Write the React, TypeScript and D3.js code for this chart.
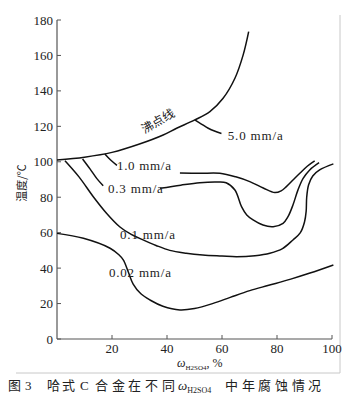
import React from "react";
import * as d3 from "d3";

const W = 356;
const H = 408;

const xTicks = [20, 40, 60, 80, 100];
const yTicks = [0, 20, 40, 60, 80, 100, 120, 140, 160, 180];

// boiling point line (沸点线)
const boiling: [number, number][] = [
  [0, 101], [10, 102.6], [20, 105.3], [30, 110], [38.6, 115.1], [43.5, 118.9],
  [50.1, 123.6], [55.6, 128.3], [60.4, 135.8], [64.7, 147.1], [67.7, 160.3], [69.7, 173.4],
];
const c50: [number, number][] = [[50.1, 123.6], [52.5, 121.3], [55, 118.9], [57.5, 117.2], [59.8, 116]];
const c10a: [number, number][] = [[17.4, 104.4], [19.5, 101], [21.8, 98]];
const c10b: [number, number][] = [
  [44.7, 93.7], [52, 93.5], [59.2, 93.5], [65, 91.5], [70.1, 88.8], [75, 85.2],
  [79.2, 82.6], [81.5, 83.6], [83.4, 86], [86, 90], [88.3, 93.5], [91, 97.5], [93.7, 100.5],
];
const c03a: [number, number][] = [[9.3, 101.6], [12, 96], [14.5, 90.5], [16.8, 86.5]];
const c03b: [number, number][] = [
  [37.4, 85], [45, 86.8], [51.9, 88.2], [58, 88.6], [61.5, 88.2], [64.7, 84.1],
  [67.1, 74.7], [69, 70], [71.3, 67.2], [74.9, 64.3], [78.6, 63.4], [82.2, 65.3],
  [84, 69], [85.8, 75.6], [87.6, 84], [89.5, 90.6], [91.9, 95.4], [95.3, 99.5],
];
const c01: [number, number][] = [
  [2.9, 100.6], [8, 91.5], [13.2, 80.3], [18, 71], [22.9, 63.2], [27, 59], [31.3, 55.9],
  [36, 52.8], [41, 50], [47, 48.4], [53, 47.4], [60, 46.8], [65.3, 46.4], [72, 47],
  [77.4, 48.4], [82, 51], [85.8, 55.9], [88.5, 60], [90, 66], [90.6, 72], [90.8, 80],
  [91.5, 87], [93, 92], [95.5, 95.4], [100.5, 98.8],
];
const c002: [number, number][] = [
  [0, 59.6], [9.6, 56.8], [19.3, 51.2], [22.5, 47.5], [24.1, 44.6], [26, 37.5],
  [27.7, 31], [30.5, 25.5], [33.8, 22], [38.5, 18.5], [44.7, 16.4], [50, 17.2],
  [56.8, 20.1], [63, 23.5], [70.1, 27.3], [77, 30.3], [85, 33.8], [92, 37.2], [100.5, 41.8],
];

const curves = [boiling, c50, c10a, c10b, c03a, c03b, c01, c002];

const labelTexts = ["5.0 mm/a", "1.0 mm/a", "0.3 mm/a", "0.1 mm/a", "0.02 mm/a"];
const labelX = [62.1, 21.8, 18.5, 22.9, 18.9];
const labelY = [112.3, 95.4, 82.4, 56.4, 35];
const labelLen = [55, 54, 55, 55, 62];

const serif = '"Liberation Serif", "DejaVu Serif", "Times New Roman", serif';
const cjk = '"Noto Sans CJK SC", "Noto Sans", sans-serif';

export default function App() {
  const x = d3.scaleLinear().domain([0, 100]).range([57, 332]);
  const y = d3.scaleLinear().domain([0, 180]).range([339, 20]);
  const line = d3
    .line<[number, number]>()
    .x((d) => x(d[0]))
    .y((d) => y(d[1]))
    .curve(d3.curveCatmullRom.alpha(0.5));

  const capX = [47, 62, 80, 95, 112, 128, 145, 162];
  const capX2 = [225, 242, 258, 275, 292, 308];
  const sf = { fontFamily: serif };
  const cf = { fontFamily: cjk };

  return (
    <svg
      width={W}
      height={H}
      style={{ position: "absolute", left: 0, top: 0, background: "#fff" }}
    >
      {/* scan frame */}
      <line x1={340} y1={15} x2={340} y2={373} stroke="#c8c8c8" strokeWidth={1} />
      <line x1={16} y1={373} x2={340} y2={373} stroke="#c8c8c8" strokeWidth={1} />

      {/* axes */}
      <line x1={x(0)} y1={y(0)} x2={x(0)} y2={y(180)} stroke="#555" strokeWidth={1.2} />
      <line x1={x(0)} y1={y(0)} x2={x(100)} y2={y(0)} stroke="#555" strokeWidth={1.2} />
      {yTicks.map((t) => (
        <g key={"y" + t}>
          <line x1={x(0)} x2={x(0) + 4} y1={y(t)} y2={y(t)} stroke="#555" strokeWidth={1} />
          <text
            x={x(0) - 4}
            y={y(t)}
            dy="0.35em"
            textAnchor="end"
            style={sf}
            fontSize={13}
            fill="#222"
          >
            {t}
          </text>
        </g>
      ))}
      {xTicks.map((t) => (
        <g key={"x" + t}>
          <line x1={x(t)} x2={x(t)} y1={y(0)} y2={y(0) - 4} stroke="#555" strokeWidth={1} />
          <text x={x(t)} y={353} textAnchor="middle" style={sf} fontSize={13} fill="#222">
            {t}
          </text>
        </g>
      ))}

      {/* axis titles */}
      <text
        transform="translate(26,183) rotate(-90)"
        textAnchor="middle"
        style={cf}
        fontSize={11}
        fill="#222"
      >
        温度/℃
      </text>
      <text x={177} y={367} style={sf} fontSize={12} fill="#222">
        <tspan fontStyle="italic">ω</tspan>
        <tspan fontSize={7} dy={3}>H2SO4</tspan>
        <tspan dy={-3}>, %</tspan>
      </text>

      {/* curves */}
      {curves.map((c, i) => (
        <path key={i} d={line(c) || ""} fill="none" stroke="#111" strokeWidth={1.5} />
      ))}

      {/* curve labels */}
      {labelTexts.map((t, i) => (
        <text
          key={t}
          x={x(labelX[i])}
          y={y(labelY[i])}
          style={sf}
          fontSize={13}
          fill="#222"
          textLength={labelLen[i]}
          lengthAdjust="spacing"
        >
          {t}
        </text>
      ))}
      <text
        transform={`translate(${x(36.7)},${y(123)}) rotate(-30)`}
        textAnchor="middle"
        dy="0.35em"
        style={cf}
        fontSize={12}
        fill="#222"
      >
        沸点线
      </text>

      {/* caption */}
      <text y={390} style={cf} fontSize={13} fill="#222">
        <tspan x={8}>图</tspan>
        <tspan x={25} style={sf}>3</tspan>
      </text>
      <text y={390} style={cf} fontSize={13} fill="#222">
        {"哈式C合金在不同".split("").map((ch, i) => (
          <tspan key={i} x={capX[i]} style={ch === "C" ? sf : cf}>
            {ch}
          </tspan>
        ))}
      </text>
      <text x={178} y={390} style={sf} fontSize={13} fill="#222">
        <tspan fontStyle="italic">ω</tspan>
        <tspan fontSize={8} dy={3}>H2SO4</tspan>
      </text>
      <text y={390} style={cf} fontSize={13} fill="#222">
        {"中年腐蚀情况".split("").map((ch, i) => (
          <tspan key={i} x={capX2[i]}>
            {ch}
          </tspan>
        ))}
      </text>
    </svg>
  );
}
